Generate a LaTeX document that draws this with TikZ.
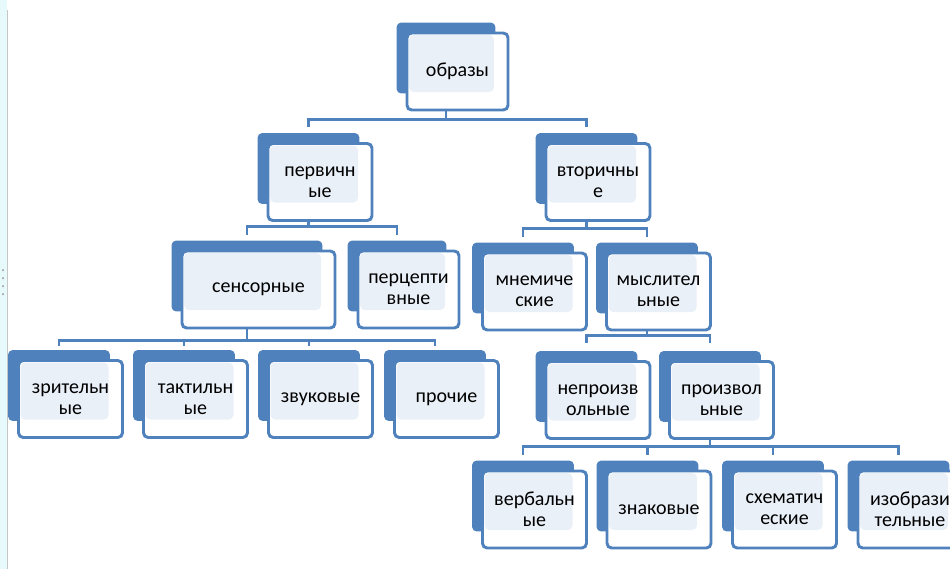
\documentclass[tikz,border=0pt]{standalone}
\usepackage{fontspec}
\setmainfont{Carlito}
\usepackage{xcolor}
\usepackage{tikz}
\usetikzlibrary{backgrounds}
\definecolor{boxblue}{HTML}{4F81BD}
\definecolor{boxfill}{HTML}{EAF0F8}
\definecolor{rulerfill}{HTML}{E6FAFC}

\begin{document}
\begin{tikzpicture}[x=0.75pt,y=-0.75pt,
  box/.style={draw=boxblue, line width=2.2pt, fill=white, rounded corners=3.5pt,
    inner sep=0pt, align=center, minimum width=78pt, minimum height=57.75pt,
    font=\fontsize{15}{15.5}\selectfont,
    path picture={\fill[boxfill] ([shift={(2,2)}]path picture bounding box.north west)
      rectangle ([shift={(-14,-18)}]path picture bounding box.south east);}},
  backbox/.style={fill=boxblue, rounded corners=3.5pt},
  conn/.style={draw=boxblue, line width=2.2pt}]
\useasboundingbox (0,0) rectangle (950,569);
% ruler strip on the left
\fill [rulerfill] (0,0) rectangle (7,569);
\draw [black!22, line width=1.1pt] (7.5,10) -- (7.5,569);
\foreach \y in {270,278,286,294}
  \fill [black!45] (3,\y) circle (1);
% boxes
\node [box, minimum width=75.75pt] (obr) at (457.5,71.5) {образы};
\node [box] (perv) at (320,182) {первичн\\ые};
\node [box] (vtor) at (598,182) {вторичны\\е};
\node [box, minimum width=114.75pt] (sens) at (258.5,289.5) {сенсорные};
\node [box, minimum width=75.75pt] (perc) at (408.5,289.5) {перцепти\\вные};
\node [box] (mnem) at (534.5,291.5) {мнемиче\\ские};
\node [box] (mysl) at (658.5,291.5) {мыслител\\ьные};
\node [box] (zrit) at (70.5,399) {зрительн\\ые};
\node [box] (takt) at (195.5,399) {тактильн\\ые};
\node [box] (zvuk) at (320.5,399) {звуковые};
\node [box] (proch) at (446.5,399) {прочие};
\node [box] (neproiz) at (598,400) {непроизв\\ольные};
\node [box] (proiz) at (721.5,400) {произвол\\ьные};
\node [box] (verb) at (534.5,509.5) {вербальн\\ые};
\node [box] (znak) at (659,509.5) {знаковые};
\node [box] (shem) at (784.5,509.5) {схематич\\еские};
\node [box] (izob) at (910,509.5) {изобрази\\тельные};
\begin{scope}[on background layer]
\foreach \n in {obr,perv,vtor,sens,perc,mnem,mysl,zrit,takt,zvuk,proch,neproiz,proiz,verb,znak,shem,izob}
  \fill [backbox] ([shift={(-9,-9)}]\n.north west) rectangle ([shift={(-14,-18)}]\n.south east);
% connectors
\draw [conn] ([shift={(-11.5,0)}]obr.south) |- ([shift={(-11.5,-23)}]perv.north) -- ([shift={(-11.5,-15)}]perv.north);
\draw [conn] ([shift={(-11.5,0)}]obr.south) |- ([shift={(-11.5,-23)}]vtor.north) -- ([shift={(-11.5,-15)}]vtor.north);
\draw [conn] ([shift={(-11.5,0)}]perv.south) |- ([shift={(-11.5,-23)}]sens.north) -- ([shift={(-11.5,-15)}]sens.north);
\draw [conn] ([shift={(-11.5,0)}]perv.south) |- ([shift={(-11.5,-23)}]perc.north) -- ([shift={(-11.5,-15)}]perc.north);
\draw [conn] ([shift={(-11.5,0)}]vtor.south) |- ([shift={(-11.5,-23)}]mnem.north) -- ([shift={(-11.5,-15)}]mnem.north);
\draw [conn] ([shift={(-11.5,0)}]vtor.south) |- ([shift={(-11.5,-23)}]mysl.north) -- ([shift={(-11.5,-15)}]mysl.north);
\draw [conn] ([shift={(-11.5,0)}]sens.south) |- ([shift={(-11.5,-19)}]zrit.north) -- ([shift={(-11.5,-13)}]zrit.north);
\draw [conn] ([shift={(-11.5,0)}]sens.south) |- ([shift={(-11.5,-19)}]takt.north) -- ([shift={(-11.5,-13)}]takt.north);
\draw [conn] ([shift={(-11.5,0)}]sens.south) |- ([shift={(-11.5,-19)}]zvuk.north) -- ([shift={(-11.5,-13)}]zvuk.north);
\draw [conn] ([shift={(-11.5,0)}]sens.south) |- ([shift={(-11.5,-19)}]proch.north) -- ([shift={(-11.5,-13)}]proch.north);
\draw [conn] ([shift={(-11.5,0)}]mysl.south) |- ([shift={(-11.5,-25)}]neproiz.north) -- ([shift={(-11.5,-17)}]neproiz.north);
\draw [conn] ([shift={(-11.5,0)}]mysl.south) |- ([shift={(-11.5,-25)}]proiz.north) -- ([shift={(-11.5,-17)}]proiz.north);
\draw [conn] ([shift={(-11.5,0)}]proiz.south) |- ([shift={(-11.5,-23)}]verb.north) -- ([shift={(-11.5,-15)}]verb.north);
\draw [conn] ([shift={(-11.5,0)}]proiz.south) |- ([shift={(-11.5,-23)}]znak.north) -- ([shift={(-11.5,-15)}]znak.north);
\draw [conn] ([shift={(-11.5,0)}]proiz.south) |- ([shift={(-11.5,-23)}]shem.north) -- ([shift={(-11.5,-15)}]shem.north);
\draw [conn] ([shift={(-11.5,0)}]proiz.south) |- ([shift={(-11.5,-23)}]izob.north) -- ([shift={(-11.5,-15)}]izob.north);
\end{scope}
\end{tikzpicture}
\end{document}
